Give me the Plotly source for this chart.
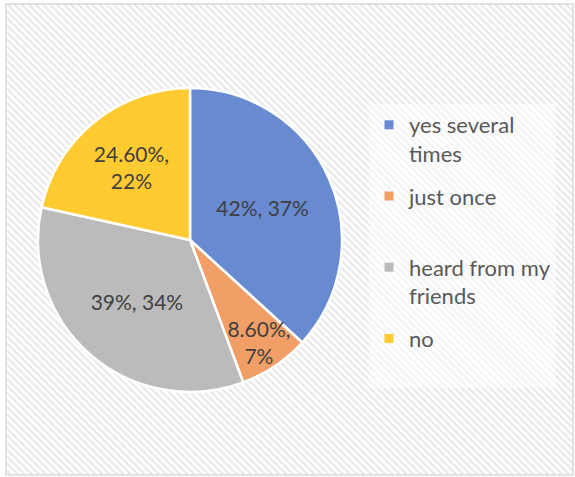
import plotly.graph_objects as go

# Survey answers
categories = ["yes several times", "just once", "heard from my friends", "no"]
legend_names = ["yes several<br>times", "just once<br> ", "heard from my<br>friends", "no<br> "]
values = [42, 8.6, 39, 24.6]
value_labels = ["42%", "8.60%", "39%", "24.60%"]
share_labels = ["37%", "7%", "34%", "22%"]
label_breaks = [", ", ",<br>", ", ", ",<br>"]
colors = ["#678AD1", "#F29F67", "#BBBBBB", "#FFCB30"]

slice_text = [v + sep + s for v, sep, s in zip(value_labels, label_breaks, share_labels)]

W, H = 575, 477
FONT = "Lato, 'Open Sans', sans-serif"

fig = go.Figure()

# hatched chart-area background
fig.add_trace(go.Bar(
    x=[0], y=[1], width=[1],
    marker=dict(color="white", line=dict(width=0),
                pattern=dict(shape="\\", fgcolor="#d2d2d2", bgcolor="white",
                             size=5, solidity=0.45)),
    hoverinfo="skip", showlegend=False,
))

cx, cy, r = 190, 240, 152
fig.add_trace(go.Pie(
    labels=categories,
    values=values,
    text=slice_text,
    textinfo="text",
    sort=False,
    direction="clockwise",
    rotation=0,
    marker=dict(colors=colors, line=dict(color="white", width=2.5)),
    textposition="inside",
    insidetextorientation="horizontal",
    textfont=dict(family=FONT, size=21, color="#404040"),
    domain=dict(x=[(cx - r) / W, (cx + r) / W],
                y=[(H - cy - r) / H, (H - cy + r) / H]),
    showlegend=False,
    hoverinfo="label+value",
))

# legend entries, one group per answer
for i, (name, col) in enumerate(zip(legend_names, colors)):
    fig.add_trace(go.Scatter(
        x=[None], y=[None], mode="markers", name=name,
        marker=dict(symbol="square", size=9, color=col),
        legendgroup=f"g{i}", showlegend=True, hoverinfo="skip",
    ))

fig.update_layout(
    width=W, height=H,
    margin=dict(l=0, r=0, t=0, b=0),
    paper_bgcolor="white",
    plot_bgcolor="rgba(0,0,0,0)",
    xaxis=dict(visible=False, range=[-0.5, 0.5], domain=[7 / W, 572 / W], fixedrange=True),
    yaxis=dict(visible=False, range=[0, 1], domain=[3 / H, 473 / H], fixedrange=True),
    uniformtext=dict(minsize=21, mode="show"),
    bargap=0,
    legend=dict(
        x=369 / W, xanchor="left",
        y=1 - 104 / H, yanchor="top",
        font=dict(family=FONT, size=22, color="#595959"),
        bgcolor="rgba(255,255,255,0.5)",
        valign="top",
        tracegroupgap=11,
        itemwidth=30,
    ),
    shapes=[dict(type="rect", xref="paper", yref="paper",
                 x0=6 / W, x1=573 / W, y0=1 - 475 / H, y1=1 - 4 / H,
                 line=dict(color="#d9d9d9", width=1.5), fillcolor="rgba(0,0,0,0)")],
)

fig.write_html("out.html")
